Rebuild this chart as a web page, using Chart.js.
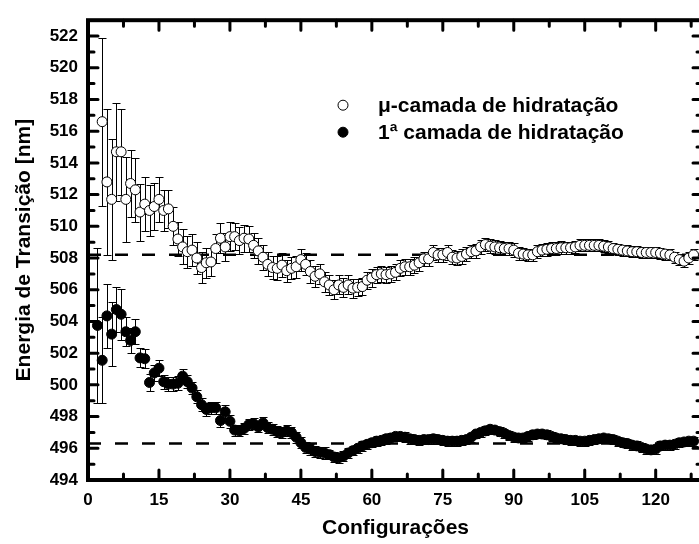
<!DOCTYPE html>
<html>
<head>
<meta charset="utf-8">
<script src="https://cdn.jsdelivr.net/npm/chart.js@4/dist/chart.umd.min.js"></script>
<style>
html, body { margin: 0; padding: 0; background: #fff; overflow: hidden; }
#wrap { width: 710px; height: 544px; }
</style>
</head>
<body>
<div id="wrap"><canvas id="chart" width="710" height="544"></canvas></div>
<script>
// axis ranges and tick labels
const xRange = [0, 130];
const yRange = [494, 523];
const xTickValues = [0, 15, 30, 45, 60, 75, 90, 105, 120];
const yTickValues = [494, 496, 498, 500, 502, 504, 506, 508, 510, 512, 514, 516, 518, 520, 522];

const seriesLabels = ['\u03bc-camada de hidrata\u00e7\u00e3o', '1\u00aa camada de hidrata\u00e7\u00e3o'];
const meanLines = [508.2, 496.3];

// open circles, configurations 3..128
const firstOpen = 3;
const openValues = [
    516.6, 512.8, 511.7, 514.7, 514.7, 511.7, 512.7, 512.3, 510.9, 511.4,
    511.0, 511.25, 511.7, 511.0, 511.1, 510.0, 509.2, 508.7, 508.4, 508.5,
    508.0, 507.4, 507.7, 507.75, 508.6, 509.25, 508.7, 509.35, 509.35, 509.1,
    509.25, 509.2, 508.8, 508.45, 508.05, 507.6, 507.4, 507.35, 507.55, 507.2,
    507.35, 507.45, 507.9, 507.6, 507.15, 506.85, 507.0, 506.5, 506.3, 506.0,
    506.3, 506.15, 506.3, 506.1, 506.15, 506.2, 506.6, 506.75, 506.95, 507.0,
    506.95, 507.0, 507.1, 507.35, 507.45, 507.45, 507.55, 507.7, 507.95, 507.95,
    508.35, 508.2, 508.2, 508.35, 508.05, 508.0, 508.1, 508.25, 508.4, 508.45,
    508.7, 508.85, 508.75, 508.7, 508.65, 508.6, 508.6, 508.5, 508.3, 508.25,
    508.2, 508.2, 508.4, 508.5, 508.55, 508.6, 508.6, 508.65, 508.65, 508.65,
    508.7, 508.8, 508.8, 508.8, 508.8, 508.8, 508.75, 508.7, 508.6, 508.55,
    508.5, 508.45, 508.4, 508.4, 508.35, 508.35, 508.35, 508.35, 508.3, 508.25,
    508.2, 508.05, 507.9, 507.8, 508.0, 508.2
];
const openErrors = [
    5.3, 4.6, 3.8, 3.1, 2.7, 2.7, 2.1, 2.0, 1.8, 1.7,
    1.6, 1.5, 1.4, 1.3, 1.2, 1.2, 1.1, 1.1, 1.0, 1.0,
    1.0, 0.95, 0.95, 0.9, 0.9, 0.95, 0.9, 0.9, 0.85, 0.85,
    0.85, 0.8, 0.8, 0.8, 0.8, 0.75, 0.75, 0.75, 0.75, 0.7,
    0.7, 0.7, 0.7, 0.7, 0.7, 0.65, 0.65, 0.65, 0.65, 0.6,
    0.6, 0.6, 0.6, 0.6, 0.55, 0.55, 0.55, 0.55, 0.5, 0.5,
    0.5, 0.5, 0.5, 0.5, 0.5, 0.5, 0.5, 0.5, 0.45, 0.45,
    0.45, 0.45, 0.45, 0.45, 0.45, 0.45, 0.45, 0.45, 0.42, 0.42,
    0.42, 0.42, 0.42, 0.42, 0.42, 0.42, 0.42, 0.42, 0.4, 0.4,
    0.4, 0.4, 0.4, 0.4, 0.4, 0.4, 0.4, 0.4, 0.38, 0.38,
    0.38, 0.38, 0.38, 0.38, 0.38, 0.38, 0.38, 0.38, 0.35, 0.35,
    0.35, 0.35, 0.35, 0.35, 0.35, 0.35, 0.35, 0.35, 0.35, 0.35,
    0.35, 0.35, 0.35, 0.35, 0.35, 0.35
];

// filled circles, configurations 2..128
const firstFilled = 2;
const filledValues = [
    503.75, 501.55, 504.35, 503.2, 504.75, 504.45, 503.35, 502.8, 503.35, 501.7,
    501.65, 500.15, 500.75, 501.05, 500.2, 500.05, 500.05, 500.1, 500.55, 500.2,
    499.8, 499.25, 498.75, 498.45, 498.55, 498.55, 497.75, 498.3, 497.7, 497.15,
    497.1, 497.25, 497.5, 497.55, 497.35, 497.6, 497.3, 497.2, 497.05, 497.0,
    497.1, 497.0, 496.7, 496.35, 496.05, 495.95, 495.8, 495.75, 495.7, 495.6,
    495.45, 495.4, 495.5, 495.7, 495.85, 496.0, 496.15, 496.25, 496.35, 496.45,
    496.5, 496.6, 496.65, 496.75, 496.75, 496.7, 496.6, 496.55, 496.5, 496.55,
    496.55, 496.6, 496.55, 496.5, 496.45, 496.45, 496.45, 496.5, 496.55, 496.7,
    496.9, 497.0, 497.1, 497.2, 497.15, 497.05, 496.95, 496.8, 496.7, 496.65,
    496.65, 496.75, 496.85, 496.9, 496.9, 496.85, 496.75, 496.65, 496.6, 496.55,
    496.5, 496.5, 496.45, 496.45, 496.5, 496.55, 496.6, 496.65, 496.6, 496.55,
    496.45, 496.35, 496.3, 496.2, 496.15, 496.05, 495.95, 495.9, 495.95, 496.15,
    496.2, 496.2, 496.25, 496.35, 496.4, 496.45, 496.45
];
const filledErrors = [
    4.9, 2.7, 2.0, 2.0, 1.4, 1.6, 0.9, 0.8, 0.8, 0.6,
    0.6, 0.55, 0.5, 0.5, 0.45, 0.45, 0.45, 0.45, 0.45, 0.4,
    0.4, 0.4, 0.4, 0.4, 0.4, 0.4, 0.4, 0.4, 0.4, 0.35,
    0.35, 0.35, 0.35, 0.35, 0.35, 0.35, 0.35, 0.35, 0.35, 0.35,
    0.35, 0.35, 0.35, 0.35, 0.35, 0.35, 0.35, 0.35, 0.35, 0.3,
    0.3, 0.3, 0.3, 0.3, 0.3, 0.3, 0.3, 0.3, 0.3, 0.3,
    0.3, 0.3, 0.3, 0.3, 0.3, 0.3, 0.3, 0.3, 0.3, 0.3,
    0.3, 0.3, 0.3, 0.3, 0.3, 0.3, 0.3, 0.3, 0.3, 0.28,
    0.28, 0.28, 0.28, 0.28, 0.28, 0.28, 0.28, 0.28, 0.28, 0.28,
    0.28, 0.28, 0.28, 0.28, 0.28, 0.28, 0.28, 0.28, 0.28, 0.28,
    0.28, 0.28, 0.28, 0.28, 0.28, 0.28, 0.28, 0.28, 0.28, 0.28,
    0.28, 0.28, 0.28, 0.28, 0.28, 0.28, 0.28, 0.28, 0.28, 0.28,
    0.28, 0.28, 0.28, 0.28, 0.28, 0.28, 0.28
];

const FONT = "'Liberation Sans', Arial, sans-serif";
Chart.defaults.font.family = FONT;
Chart.defaults.font.weight = 'bold';
Chart.defaults.color = '#000';

function points(first, values) {
    return values.map((v, i) => ({ x: first + i, y: v }));
}

// error bars go under the circles
const errorBars = {
    id: 'errorBars',
    beforeDatasetsDraw(chart) {
        const ctx = chart.ctx;
        const xs = chart.scales.x, ys = chart.scales.y;
        ctx.save();
        ctx.strokeStyle = '#000';
        ctx.lineWidth = 1;
        chart.data.datasets.forEach(ds => {
            if (!ds.errors) return;
            ds.data.forEach((p, i) => {
                const e = ds.errors[i];
                const px = Math.round(xs.getPixelForValue(p.x)) + 0.5;
                const top = Math.round(ys.getPixelForValue(p.y + e)) + 0.5;
                const bot = Math.round(ys.getPixelForValue(p.y - e)) + 0.5;
                ctx.beginPath();
                ctx.moveTo(px, top); ctx.lineTo(px, bot);
                ctx.moveTo(px - 4, top); ctx.lineTo(px + 4, top);
                ctx.moveTo(px - 4, bot); ctx.lineTo(px + 4, bot);
                ctx.stroke();
            });
        });
        ctx.restore();
    }
};

// box frame with inward ticks on all four sides, plus the legend
const frame = {
    id: 'frame',
    afterDraw(chart) {
        const ctx = chart.ctx;
        const a = chart.chartArea;
        const xs = chart.scales.x, ys = chart.scales.y;
        ctx.save();
        ctx.strokeStyle = '#000';
        ctx.lineWidth = 4;
        ctx.strokeRect(a.left, a.top, a.right - a.left, a.bottom - a.top);

        ctx.lineWidth = 3;
        ctx.lineCap = 'round';
        const xStep = (xTickValues[1] - xTickValues[0]) / 2;
        for (let k = 1; k * xStep < xs.max; k++) {
            const px = xs.getPixelForValue(k * xStep);
            const len = k % 2 === 0 ? 10 : 6;
            ctx.beginPath();
            ctx.moveTo(px, a.bottom); ctx.lineTo(px, a.bottom - len);
            ctx.moveTo(px, a.top); ctx.lineTo(px, a.top + len);
            ctx.stroke();
        }
        const yStep = (yTickValues[1] - yTickValues[0]) / 2;
        for (let k = 1; ys.min + k * yStep < ys.max; k++) {
            const py = ys.getPixelForValue(ys.min + k * yStep);
            const len = k % 2 === 0 ? 10 : 6;
            ctx.beginPath();
            ctx.moveTo(a.left, py); ctx.lineTo(a.left + len, py);
            ctx.moveTo(a.right, py); ctx.lineTo(a.right - len, py);
            ctx.stroke();
        }

        // legend
        const lx = a.left + 255, ly = a.top + 85;
        ctx.lineCap = 'butt';
        ctx.font = 'bold 21px ' + FONT;
        ctx.textBaseline = 'middle';
        [0, 1].forEach(i => {
            const ds = chart.data.datasets[i];
            const y = ly + i * 27;
            ctx.beginPath();
            ctx.arc(lx, y, 5, 0, Math.PI * 2);
            ctx.fillStyle = ds.backgroundColor;
            ctx.fill();
            ctx.lineWidth = 1;
            ctx.stroke();
            ctx.fillStyle = '#000';
            ctx.fillText(ds.label, lx + 35, y + 1);
        });
        ctx.restore();
    }
};

new Chart(document.getElementById('chart'), {
    type: 'scatter',
    data: {
        datasets: [
            {
                label: seriesLabels[0],
                data: points(firstOpen, openValues),
                errors: openErrors,
                pointRadius: 5,
                pointBackgroundColor: '#fff',
                backgroundColor: '#fff',
                borderColor: '#000',
                pointBorderWidth: 1,
                order: 1
            },
            {
                label: seriesLabels[1],
                data: points(firstFilled, filledValues),
                errors: filledErrors,
                pointRadius: 5,
                pointBackgroundColor: '#000',
                backgroundColor: '#000',
                borderColor: '#000',
                pointBorderWidth: 1,
                order: 1
            },
            ...meanLines.map(v => ({
                type: 'line',
                label: 'mean',
                data: [{ x: xRange[0], y: v }, { x: xRange[1], y: v }],
                borderColor: '#000',
                borderWidth: 2.5,
                borderDash: [13, 14],
                pointRadius: 0,
                order: 2
            }))
        ]
    },
    options: {
        responsive: false,
        animation: false,
        layout: { padding: { left: 0, right: 7, top: 18, bottom: 0 } },
        plugins: { legend: { display: false }, tooltip: { enabled: false } },
        scales: {
            x: {
                type: 'linear',
                min: xRange[0],
                max: xRange[1],
                grid: { display: false, drawTicks: false },
                border: { display: false },
                afterBuildTicks: s => { s.ticks = xTickValues.map(v => ({ value: v })); },
                afterFit: s => { s.height = 64; },
                ticks: { font: { size: 17, weight: 'bold' }, padding: 10, maxRotation: 0 },
                title: { display: true, text: 'Configura\u00e7\u00f5es', font: { size: 21, weight: 'bold' }, padding: { top: 0, bottom: 3 } }
            },
            y: {
                type: 'linear',
                min: yRange[0],
                max: yRange[1],
                grid: { display: false, drawTicks: false },
                border: { display: false },
                afterBuildTicks: s => { s.ticks = yTickValues.map(v => ({ value: v })); },
                afterFit: s => { s.width = 88; },
                ticks: { font: { size: 17, weight: 'bold' }, padding: 10 },
                title: { display: true, text: 'Energia de Transi\u00e7\u00e3o [nm]', font: { size: 21, weight: 'bold' }, padding: { top: 12, bottom: 0 } }
            }
        }
    },
    plugins: [errorBars, frame]
});
</script>
</body>
</html>
